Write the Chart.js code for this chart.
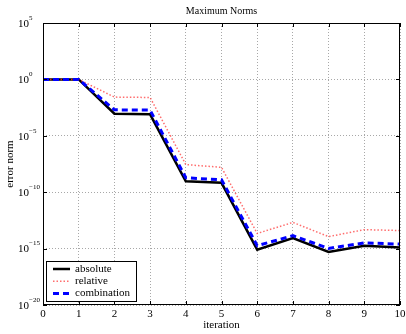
<!DOCTYPE html>
<html>
<head>
<meta charset="utf-8">
<script src="https://cdn.jsdelivr.net/npm/chart.js@4.4.0/dist/chart.umd.min.js"></script>
<style>
  html, body { margin: 0; padding: 0; background: #fff; }
  #wrap { width: 406px; height: 334px; }
</style>
</head>
<body>
<div id="wrap"><canvas id="grafica"></canvas></div>
<script>
"use strict";
/* Datos */
const iteraciones = [0, 1, 2, 3, 4, 5, 6, 7, 8, 9, 10];
const absoluta = [1, 1, 9e-4, 8e-4, 9.3e-10, 6.8e-10, 8e-16, 8.7e-15, 5e-16, 1.8e-15, 1.26e-15];
const relativa = [1, 1, 2.7e-2, 2.5e-2, 2.8e-8, 1.6e-8, 2.2e-14, 2.1e-13, 1.15e-14, 4.8e-14, 4e-14];
const combinada = [1, 1, 2e-3, 1.9e-3, 1.9e-9, 1.26e-9, 1.8e-15, 1.4e-14, 1.05e-15, 3.2e-15, 2.5e-15];
const ticksX = [0, 1, 2, 3, 4, 5, 6, 7, 8, 9, 10];
const exponentesY = [-20, -15, -10, -5, 0, 5];

const FUENTE = "'Liberation Serif', 'DejaVu Serif', serif";

function puntos(valores) {
    return iteraciones.map((x, i) => ({ x: x, y: valores[i] }));
}

/* Marco, etiquetas y leyenda dibujados a mano */
const decoracion = {
    id: "decoracion",
    afterDraw(chart) {
        const ctx = chart.ctx;
        const area = chart.chartArea;
        const ex = chart.scales.x;
        const ey = chart.scales.y;
        ctx.save();

        // marco
        ctx.strokeStyle = "#000";
        ctx.lineWidth = 1;
        ctx.setLineDash([]);
        ctx.strokeRect(area.left + 0.5, area.top + 0.5, area.right - area.left - 1, area.bottom - area.top - 1);

        // marcas hacia adentro
        ctx.beginPath();
        ticksX.forEach(v => {
            const px = Math.round(ex.getPixelForValue(v)) + 0.5;
            ctx.moveTo(px, area.bottom); ctx.lineTo(px, area.bottom - 4);
            ctx.moveTo(px, area.top); ctx.lineTo(px, area.top + 4);
        });
        exponentesY.forEach(e => {
            const py = Math.round(ey.getPixelForValue(Math.pow(10, e))) + 0.5;
            ctx.moveTo(area.left, py); ctx.lineTo(area.left + 4, py);
            ctx.moveTo(area.right, py); ctx.lineTo(area.right - 4, py);
        });
        ctx.stroke();

        // etiquetas del eje x
        ctx.fillStyle = "#000";
        ctx.font = "11px " + FUENTE;
        ctx.textAlign = "center";
        ctx.textBaseline = "middle";
        ticksX.forEach(v => {
            ctx.fillText(String(v), ex.getPixelForValue(v), area.bottom + 9);
        });

        // etiquetas del eje y con superindice
        ctx.textAlign = "left";
        exponentesY.forEach(e => {
            const py = ey.getPixelForValue(Math.pow(10, e));
            ctx.font = "11px " + FUENTE;
            ctx.fillText("10", 18, py + 1);
            const w = ctx.measureText("10").width;
            ctx.font = "7px " + FUENTE;
            ctx.fillText(e < 0 ? "\u2212" + Math.abs(e) : String(e), 18 + w, py - 5);
        });

        // titulos
        ctx.font = "10px " + FUENTE;
        ctx.textAlign = "center";
        const cx = (area.left + area.right) / 2;
        ctx.fillText("Maximum Norms", cx, 11);
        ctx.font = "11px " + FUENTE;
        ctx.fillText("iteration", cx, 325);
        ctx.save();
        ctx.translate(10, (area.top + area.bottom) / 2);
        ctx.rotate(-Math.PI / 2);
        ctx.fillText("error norm", 0, 0);
        ctx.restore();

        // leyenda
        const lx = area.left + 3, ly = area.bottom - 44;
        ctx.fillStyle = "#fff";
        ctx.fillRect(lx, ly, 90, 40);
        ctx.strokeStyle = "#000";
        ctx.lineWidth = 1;
        ctx.strokeRect(lx + 0.5, ly + 0.5, 90, 40);
        chart.data.datasets.forEach((ds, i) => {
            const y = ly + 8 + i * 12.2;
            ctx.strokeStyle = ds.borderColor;
            ctx.lineWidth = ds.borderWidth;
            ctx.setLineDash(ds.borderDash || []);
            ctx.beginPath();
            ctx.moveTo(lx + 7, y); ctx.lineTo(lx + 24, y);
            ctx.stroke();
            ctx.setLineDash([]);
            ctx.fillStyle = "#000";
            ctx.font = "11px " + FUENTE;
            ctx.textAlign = "left";
            ctx.fillText(ds.label, lx + 29, y);
        });
        ctx.restore();
    }
};

function inicializarGrafica() {
    const canvas = document.getElementById("grafica");
    new Chart(canvas, {
        type: "line",
        data: {
            datasets: [
                { label: "absolute", data: puntos(absoluta), borderColor: "#000000", borderWidth: 2.5, order: 3 },
                { label: "relative", data: puntos(relativa), borderColor: "rgba(255,60,60,0.75)", borderWidth: 1.5, borderDash: [1.5, 2], order: 2 },
                { label: "combination", data: puntos(combinada), borderColor: "#0000ff", borderWidth: 3, borderDash: [6, 4], order: 1 }
            ]
        },
        options: {
            responsive: true,
            maintainAspectRatio: false,
            animation: false,
            layout: { padding: { left: 43, right: 6, top: 23, bottom: 29 } },
            elements: { point: { radius: 0 }, line: { tension: 0, fill: false } },
            plugins: { legend: { display: false }, tooltip: { enabled: false }, title: { display: false } },
            scales: {
                x: {
                    type: "linear", min: 0, max: 10,
                    afterBuildTicks: s => { s.ticks = ticksX.map(v => ({ value: v })); },
                    ticks: { display: false },
                    grid: { color: "#a8a8a8", lineWidth: 1, drawTicks: false },
                    border: { display: false, dash: [1, 2] }
                },
                y: {
                    type: "logarithmic", min: 1e-20, max: 1e5,
                    afterBuildTicks: s => { s.ticks = exponentesY.map(e => ({ value: Math.pow(10, e) })); },
                    ticks: { display: false },
                    grid: { color: "#a8a8a8", lineWidth: 1, drawTicks: false },
                    border: { display: false, dash: [1, 2] }
                }
            }
        },
        plugins: [decoracion]
    });
}

document.addEventListener("DOMContentLoaded", inicializarGrafica);
</script>
</body>
</html>
